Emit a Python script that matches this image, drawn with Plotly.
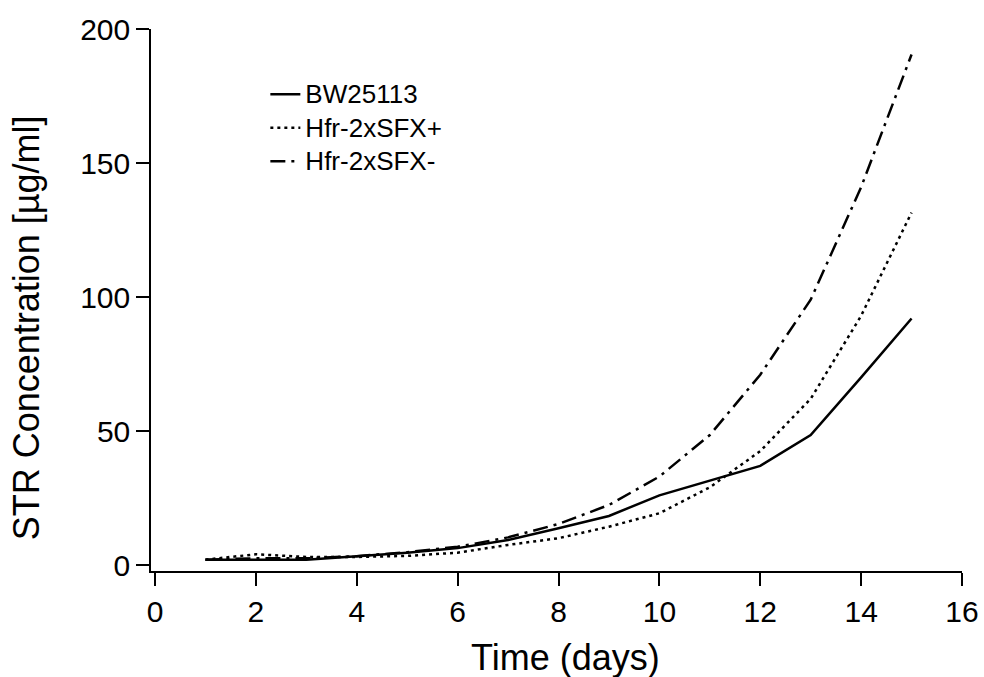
import plotly.graph_objects as go

days = [1, 2, 3, 4, 5, 6, 7, 8, 9, 10, 11, 12, 13, 14, 15]
bw25113 = [2, 2, 2, 3.3, 4.6, 6.3, 9.3, 13.7, 18.3, 26, 31.5, 37, 48.5, 70, 92]
sfx_plus = [2, 4, 3, 3, 3.4, 4.6, 7.5, 10, 14.3, 19.3, 29, 42.5, 62, 93, 131.5]
sfx_minus = [2, 2.5, 2.5, 3.3, 4.8, 6.8, 10.3, 15.3, 22.4, 33, 48.5, 71, 99, 141, 190.5]
series_names = ["BW25113", "Hfr-2xSFX+", "Hfr-2xSFX-"]

x_ticks = [0, 2, 4, 6, 8, 10, 12, 14, 16]
y_ticks = [0, 50, 100, 150, 200]

FONT = "Arial, 'Liberation Sans', Helvetica, sans-serif"


def legend_label(s):
    return '<span style="font-size:26px">' + s + '</span>'


fig = go.Figure()
fig.add_trace(go.Scatter(x=days, y=bw25113, mode="lines", name=legend_label(series_names[0]),
                         line=dict(color="black", width=2.5, dash="solid")))
fig.add_trace(go.Scatter(x=days, y=sfx_plus, mode="lines", name=legend_label(series_names[1]),
                         line=dict(color="black", width=2.5, dash="3px,4px")))
fig.add_trace(go.Scatter(x=days, y=sfx_minus, mode="lines", name=legend_label(series_names[2]),
                         line=dict(color="black", width=2.5, dash="15px,6px,3px,6px")))

fig.update_layout(
    width=984, height=677,
    margin=dict(l=151, r=22, t=29, b=106),
    plot_bgcolor="white", paper_bgcolor="white",
    font=dict(family=FONT, color="black"),
    showlegend=True,
    legend=dict(x=0.141, y=0.92, xanchor="left", yanchor="top",
                font=dict(size=23.5, family=FONT, color="black"),
                bgcolor="rgba(0,0,0,0)", borderwidth=0),
    xaxis=dict(range=[-0.08, 16], tickvals=x_ticks, ticktext=[str(v) for v in x_ticks],
               automargin=False,
               showgrid=False, zeroline=False, showline=True, linecolor="black", linewidth=1.5,
               ticks="outside", ticklen=13, tickwidth=1.5, tickcolor="black",
               tickfont=dict(size=30, family=FONT, color="black")),
    yaxis=dict(range=[-2.24, 200], tickvals=y_ticks, ticktext=[str(v) for v in y_ticks],
               automargin=False,
               showgrid=False, zeroline=False, showline=True, linecolor="black", linewidth=1.5,
               ticks="outside", ticklen=13, tickwidth=1.5, tickcolor="black",
               tickfont=dict(size=30, family=FONT, color="black")),
    annotations=[
        dict(text="Time (days)", xref="paper", yref="paper", x=0.5105, y=-0.1605,
             xanchor="center", yanchor="middle", showarrow=False,
             font=dict(size=36, family=FONT, color="black")),
        dict(text="STR Concentration [µg/ml]", xref="paper", yref="paper", x=-0.1525, y=0.4484,
             xanchor="center", yanchor="middle", textangle=-90, showarrow=False,
             font=dict(size=36, family=FONT, color="black")),
    ],
)

fig.write_html("out.html")
